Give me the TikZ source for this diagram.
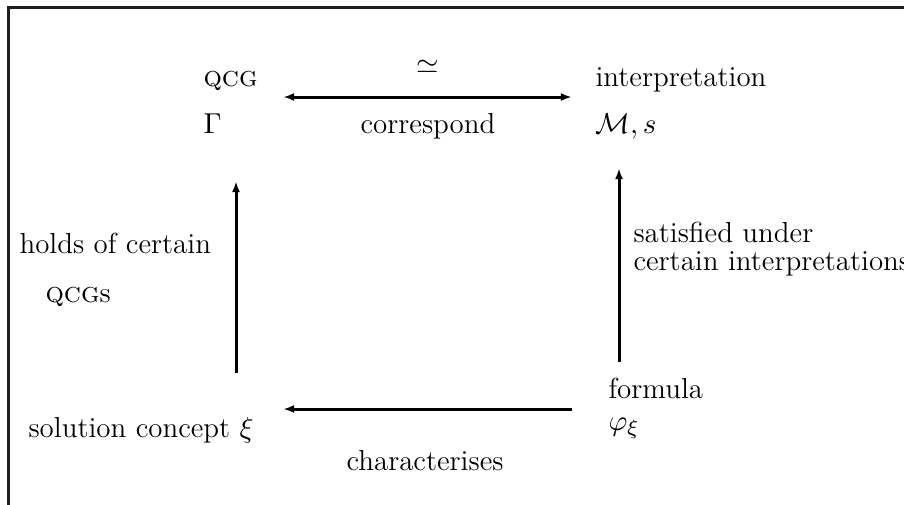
\documentclass[tikz,border=0pt]{standalone}
\usetikzlibrary{arrows.meta}
\newcommand{\qcgname}{\textsc{qcg}}

\begin{document}
\begin{tikzpicture}[x=0.38pt,y=-0.38pt,
  conn/.style={line width=1.14pt,>={Latex[length=4.2pt,width=3pt]}},
  txt/.style={anchor=base west,inner sep=0pt,font=\fontsize{11}{13}\selectfont},
  mid/.style={txt,anchor=base}]
\useasboundingbox (0,0) rectangle (904,504);
\clip (0,0) rectangle (904,504);
\draw [line width=1.14pt,black!88] (8,7.5) rectangle (960,560);

% the four corners
\node[txt] (qcg) at (203,86) {\qcgname};
\node[txt] (game) at (203,133) {$\Gamma$};
\node[txt] (interp) at (595,86) {interpretation};
\node[txt] (model) at (595,133) {$\mathcal{M}, s$};
\node[txt] (sol) at (28,437) {solution concept $\xi$};
\node[txt] (form) at (608,398) {formula};
\node[txt] (phi) at (608,430) {$\varphi_\xi$};

% arrow ends
\coordinate (game-e) at (283,97);
\coordinate (interp-w) at (572,97);
\coordinate (sol-n) at (236,373);
\coordinate (game-s) at (236,181);
\coordinate (form-n) at (619,362);
\coordinate (model-s) at (619,168);
\coordinate (form-w) at (572,409);
\coordinate (sol-e) at (283,409);

\draw[conn,<->] (game-e) -- (interp-w);
\draw[conn,->] (sol-n) -- (game-s);
\draw[conn,->] (form-n) -- (model-s);
\draw[conn,->] (form-w) -- (sol-e);

% labels
\node[mid] (simeq) at (428,73) {$\simeq$};
\node[mid] (corr) at (428,133) {correspond};
\node[mid] (charac) at (425,470) {characterises};
\node[txt] (holds) at (19,253) {holds of certain};
\node[txt] (qcgs) at (45,302) {\qcgname s};
\node[txt] (sat) at (633,242) {satisfied under};
\node[txt] (certain) at (633,270) {certain interpretations};
\end{tikzpicture}
\end{document}
